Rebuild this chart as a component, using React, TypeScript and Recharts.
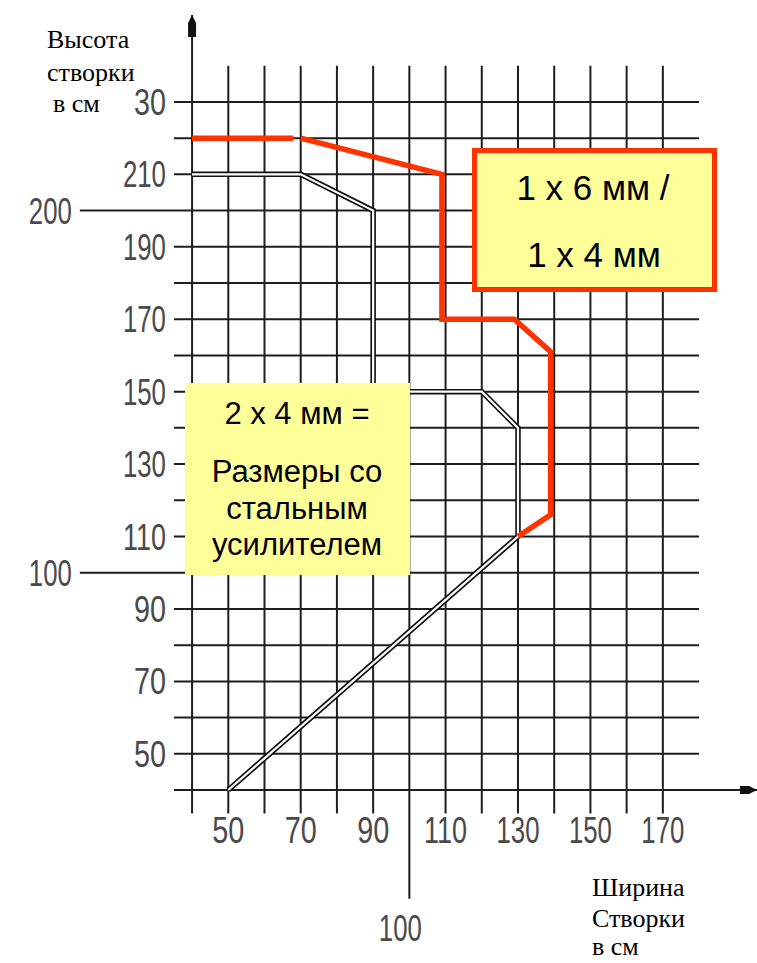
import { LineChart, Line, XAxis, YAxis, ReferenceLine, ReferenceDot } from 'recharts';

// tick labels
const xTicks = [50, 70, 90, 110, 130, 150, 170];
const yTicks = [50, 70, 90, 110, 130, 150, 170, 190, 210, 230];
const yTickText = ['50', '70', '90', '110', '130', '150', '170', '190', '210', '30'];

// grid
const xGrid = [50, 60, 70, 80, 90, 100, 110, 120, 130, 140, 150, 160, 170];
const yGrid = [50, 60, 70, 80, 90, 100, 110, 120, 130, 140, 150, 160, 170, 180, 190, 200, 210, 220, 230];
const yLong = [100, 200];
const xLong = [100];

// series: 2 x 4 mm (steel reinforced)
const steel = [
  { x: 40, y: 210 },
  { x: 70, y: 210 },
  { x: 90, y: 200 },
  { x: 90, y: 150 },
  { x: 120, y: 150 },
  { x: 130, y: 140 },
  { x: 130, y: 110 },
  { x: 50, y: 40 },
];

// series: 1 x 6 mm / 1 x 4 mm
const limit = [
  { x: 40, y: 220 },
  { x: 68, y: 220 },
  { x: 69, y: null },
  { x: 70, y: 220 },
  { x: 109, y: 210 },
  { x: 109, y: 170 },
  { x: 129, y: 170 },
  { x: 139, y: 161 },
  { x: 139, y: 116 },
  { x: 130, y: 110 },
];

const W = 757;
const H = 963;
const ORIGIN = 40;
const GRID_LEFT = 35;
const GRID_RIGHT = 180;
const GRID_BOTTOM = 33.5;
const GRID_TOP = 240;
const LONG_LEFT = 9;
const LONG_BOTTOM = 10;
const AXIS_X_END = 196;
const AXIS_Y_END = 254;

const gridStroke = '#1e1e1e';
const tickFont = "'Liberation Sans', Arial, sans-serif";
const tickFill = '#4a4a4a';
const red = '#FF3300';
const yellow = '#FFFF99';

// narrow, CAD-like tick label
const Tick = ({ x, y, text, anchor }: { x: number; y: number; text: string; anchor: 'start' | 'middle' | 'end' }) => (
  <text
    x={x}
    y={y}
    textAnchor={anchor}
    fontFamily={tickFont}
    fontSize={36}
    fill={tickFill}
    textLength={text.length === 2 ? 32 : 43}
    lengthAdjust="spacingAndGlyphs"
  >
    {text}
  </text>
);

export default function App() {
  return (
    <div style={{ position: 'absolute', left: 0, top: 0, width: W, height: H, background: '#fff' }}>
      <LineChart width={W} height={H} margin={{ top: 15, right: 0, bottom: 10, left: 11 }}>
        <XAxis type="number" dataKey="x" domain={[-10, 196]} hide allowDataOverflow scale="linear" />
        <YAxis type="number" dataKey="y" domain={[-5, 254]} hide allowDataOverflow scale="linear" />

        {xGrid.map((v) => (
          <ReferenceLine
            key={'vx' + v}
            segment={[{ x: v, y: xLong.includes(v) ? LONG_BOTTOM : GRID_BOTTOM }, { x: v, y: GRID_TOP }]}
            stroke={gridStroke}
            strokeWidth={2}
            ifOverflow="visible"
          />
        ))}
        {yGrid.map((v) => (
          <ReferenceLine
            key={'hy' + v}
            segment={[{ x: yLong.includes(v) ? LONG_LEFT : GRID_LEFT, y: v }, { x: GRID_RIGHT, y: v }]}
            stroke={gridStroke}
            strokeWidth={2}
            ifOverflow="visible"
          />
        ))}
        <ReferenceLine
          segment={[{ x: GRID_LEFT, y: ORIGIN }, { x: AXIS_X_END, y: ORIGIN }]}
          stroke={gridStroke}
          strokeWidth={2}
          ifOverflow="visible"
        />
        <ReferenceLine
          segment={[{ x: ORIGIN, y: GRID_BOTTOM }, { x: ORIGIN, y: AXIS_Y_END }]}
          stroke={gridStroke}
          strokeWidth={2}
          ifOverflow="visible"
        />
        <ReferenceDot
          x={AXIS_X_END}
          y={ORIGIN}
          r={0}
          ifOverflow="visible"
          shape={(p: any) => (
            <polygon
              points={`${p.cx},${p.cy} ${p.cx - 8},${p.cy - 4} ${p.cx - 17},${p.cy - 4} ${p.cx - 17},${p.cy + 4} ${p.cx - 8},${p.cy + 4}`}
              fill="#111"
            />
          )}
        />
        <ReferenceDot
          x={ORIGIN}
          y={AXIS_Y_END}
          r={0}
          ifOverflow="visible"
          shape={(p: any) => (
            <polygon
              points={`${p.cx},${p.cy} ${p.cx + 4},${p.cy + 8} ${p.cx + 4},${p.cy + 22} ${p.cx - 4},${p.cy + 22} ${p.cx - 4},${p.cy + 8}`}
              fill="#111"
            />
          )}
        />

        <Line
          data={steel}
          dataKey="y"
          type="linear"
          stroke="#111"
          strokeWidth={5.5}
          strokeLinejoin="miter"
          dot={false}
          isAnimationActive={false}
        />
        <Line
          data={steel}
          dataKey="y"
          type="linear"
          stroke="#fff"
          strokeWidth={2.2}
          strokeLinejoin="miter"
          dot={false}
          isAnimationActive={false}
        />
        <Line
          data={limit}
          dataKey="y"
          type="linear"
          stroke={red}
          strokeWidth={5.5}
          strokeLinejoin="miter"
          dot={false}
          connectNulls={false}
          isAnimationActive={false}
        />

        {xTicks.map((v) => (
          <ReferenceDot
            key={'xt' + v}
            x={v}
            y={ORIGIN}
            r={0}
            ifOverflow="visible"
            shape={(p: any) => <Tick x={p.cx} y={p.cy + 53} text={String(v)} anchor="middle" />}
          />
        ))}
        {yTicks.map((v, i) => (
          <ReferenceDot
            key={'yt' + v}
            x={GRID_LEFT}
            y={v}
            r={0}
            ifOverflow="visible"
            shape={(p: any) => <Tick x={p.cx - 8} y={p.cy + 13} text={yTickText[i]} anchor="end" />}
          />
        ))}
        {yLong.map((v) => (
          <ReferenceDot
            key={'yl' + v}
            x={LONG_LEFT}
            y={v}
            r={0}
            ifOverflow="visible"
            shape={(p: any) => <Tick x={p.cx - 8} y={p.cy + 13} text={String(v)} anchor="end" />}
          />
        ))}
        {xLong.map((v) => (
          <ReferenceDot
            key={'xl' + v}
            x={v}
            y={LONG_BOTTOM}
            r={0}
            ifOverflow="visible"
            shape={(p: any) => <Tick x={p.cx - 9} y={p.cy + 42} text={String(v)} anchor="middle" />}
          />
        ))}
      </LineChart>

      <svg width={W} height={H} style={{ position: 'absolute', left: 0, top: 0, pointerEvents: 'none' }}>
        <g fontFamily="'Liberation Serif', 'Times New Roman', serif" fontSize={26} fill="#000">
          <text x={47} y={48}>Высота</text>
          <text x={47} y={81}>створки</text>
          <text x={53} y={112}>в см</text>
          <text x={592} y={896}>Ширина</text>
          <text x={592} y={927}>Створки</text>
          <text x={592} y={955}>в см</text>
        </g>

        <rect x={474.5} y={150.5} width={240} height={139} fill={yellow} stroke={red} strokeWidth={5} />
        <g fontFamily="'Liberation Sans', Arial, sans-serif" fontSize={35} fill="#000" textAnchor="middle">
          <text x={593} y={200}>1 x 6 мм /</text>
          <text x={594} y={267}>1 x 4 мм</text>
        </g>

        <rect x={185} y={383} width={225} height={192} fill={yellow} />
        <g fontFamily="'Liberation Sans', Arial, sans-serif" fontSize={31} fill="#000" textAnchor="middle">
          <text x={297} y={424}>2 x 4 мм =</text>
          <text x={297} y={482}>Размеры со</text>
          <text x={297} y={519}>стальным</text>
          <text x={297} y={555}>усилителем</text>
        </g>
      </svg>
    </div>
  );
}
